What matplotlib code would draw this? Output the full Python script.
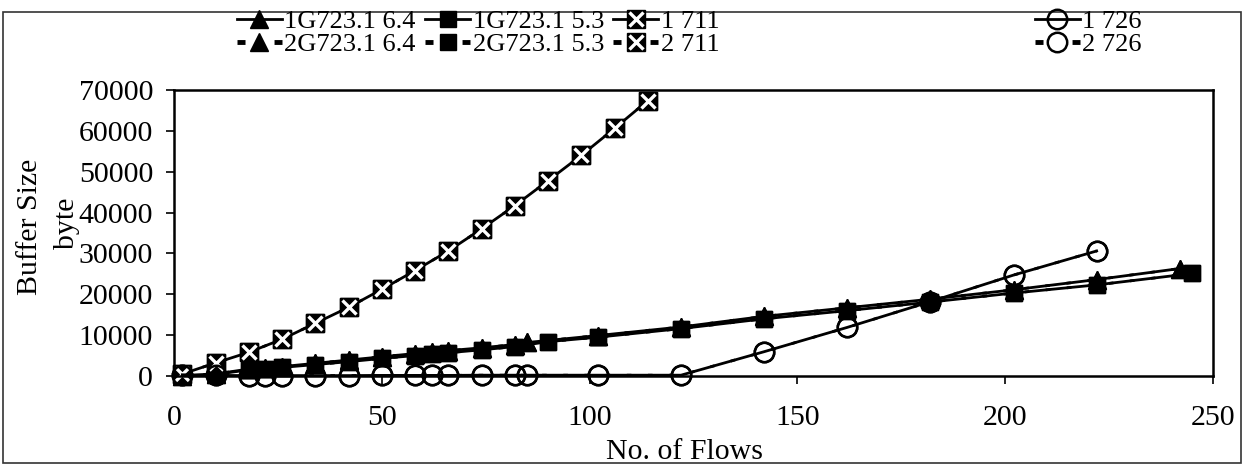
from matplotlib import pyplot as plt
from matplotlib.patches import Rectangle
from matplotlib.legend_handler import HandlerLine2D

plt.rcParams['font.family'] = ['Liberation Serif', 'DejaVu Serif']

# 数据 (flows -> buffer size in byte); series 1 and 2 lie on top of each other
g64_x = [2, 10, 18, 22, 26, 34, 42, 50, 58, 62, 66, 74, 82, 85, 102, 122, 142, 162, 182, 202, 222, 242]
g64_1 = [0, 500, 1700, 2000, 2300, 3100, 3900, 4700, 5500, 5900, 6200, 6900, 7700, 8200, 9900, 12000,
         14600, 16700, 18800, 21100, 23600, 26300]
g64_2 = [0, 500, 1700, 2000, 2300, 3100, 3900, 4700, 5500, 5900, 6200, 6900, 7700, 8200, 9900, 12000,
         14600, 16700, 18800, 21100, 23600, 26300]

g53_x = [2, 10, 18, 22, 26, 34, 42, 50, 58, 62, 66, 74, 82, 90, 102, 122, 142, 162, 182, 202, 222, 245]
g53_1 = [0, 400, 1500, 1800, 2100, 2800, 3500, 4300, 5000, 5400, 5700, 6400, 7200, 8400, 9500, 11600,
         14000, 16000, 18100, 20300, 22300, 25100]
g53_2 = [0, 400, 1500, 1800, 2100, 2800, 3500, 4300, 5000, 5400, 5700, 6400, 7200, 8400, 9500, 11600,
         14000, 16000, 18100, 20300, 22300, 25100]

g711_x = [2, 10, 18, 26, 34, 42, 50, 58, 66, 74, 82, 90, 98, 106, 114]
g711_1 = [500, 3200, 5800, 9000, 12900, 16800, 21200, 25800, 30600, 36000, 41700, 47800, 54000, 60600, 67400]
g711_2 = [500, 3200, 5800, 9000, 12900, 16800, 21200, 25800, 30600, 36000, 41700, 47800, 54000, 60600, 67400]

g726_x = [2, 10, 18, 22, 26, 34, 42, 50, 58, 62, 66, 74, 82, 85, 102, 122, 142, 162, 182, 202, 222]
g726_1 = [300, 150, 100, 100, 100, 100, 100, 150, 150, 150, 150, 200, 200, 200, 200, 200,
          5950, 11900, 18200, 24700, 30600]
g726_2 = [300, 150, 100, 100, 100, 100, 100, 150, 150, 150, 150, 200, 200, 200, 200, 200,
          5950, 11900, 18200, 24700, 30600]

fig = plt.figure(figsize=(12.45, 4.65), dpi=100)
ax = fig.add_axes([174 / 1245, 1 - 376 / 465, 1039 / 1245, 286 / 465])

solid = dict(color='k', lw=2, clip_on=False)
dash = dict(color='k', lw=2, ls=(0, (1.65, 5.97)), clip_on=False)

# series 2 first (drawn below)
h64_2, = ax.plot(g64_x, g64_2, marker='^', ms=13, **dash)
h53_2, = ax.plot(g53_x, g53_2, marker='s', ms=11, **dash)
h711_2s, = ax.plot(g711_x, g711_2, marker='s', ms=13, **dash)
h711_2x, = ax.plot(g711_x, g711_2, ls='none', marker='x', ms=10, mew=2.4, color='w', clip_on=False)
h726_2, = ax.plot(g726_x, g726_2, marker='o', ms=14, mfc='none', mew=1.8, **dash)

h64_1, = ax.plot(g64_x, g64_1, marker='^', ms=13, **solid)
h53_1, = ax.plot(g53_x, g53_1, marker='s', ms=11, **solid)
h711_1s, = ax.plot(g711_x, g711_1, marker='s', ms=13, **solid)
h711_1x, = ax.plot(g711_x, g711_1, ls='none', marker='x', ms=10, mew=2.4, color='w', clip_on=False)
h726_1, = ax.plot(g726_x, g726_1, marker='o', ms=14, mfc='none', mew=1.8, **solid)

ax.set_xlim(0, 250)
ax.set_ylim(0, 70000)
ax.set_xticks(range(0, 251, 50))
ax.set_yticks(range(0, 70001, 10000))
ax.tick_params(axis='both', direction='out', length=6, width=1.2, labelsize=21.5)
ax.tick_params(axis='x', pad=15)
ax.tick_params(axis='y', pad=9)
for s in ax.spines.values():
    s.set_linewidth(1.8)

fig.text(685 / 1245, 1 - 452 / 465, 'No. of Flows', ha='center', va='center', fontsize=21.5)
fig.text(30 / 1245, 1 - 227 / 465, 'Buffer Size', ha='center', va='center', rotation=90, fontsize=21.5)
fig.text(67 / 1245, 1 - 223 / 465, 'byte', ha='center', va='center', rotation=90, fontsize=21.5)


# thicker square dashes in the legend only
def thick(leg_line, orig):
    leg_line.update_from(orig)
    leg_line.set_linewidth(3.5)


hmap = {h: HandlerLine2D(update_func=thick) for h in (h64_2, h53_2, h711_2s, h726_2)}

leg_kw = dict(frameon=False, fontsize=19, handlelength=1.7, handletextpad=0.1, columnspacing=0.35,
              labelspacing=0.0, borderpad=0, borderaxespad=0, loc='center left', handler_map=hmap)
fig.legend([h64_1, h64_2, h53_1, h53_2, (h711_1s, h711_1x), (h711_2s, h711_2x)],
           ['1G723.1 6.4', '2G723.1 6.4', '1G723.1 5.3', '2G723.1 5.3', '1 711', '2 711'],
           ncol=3, bbox_to_anchor=(237 / 1245, 1 - 33 / 465), **leg_kw)
fig.legend([h726_1, h726_2], ['1 726', '2 726'], ncol=1,
           bbox_to_anchor=(1035 / 1245, 1 - 33 / 465), **leg_kw)

fig.patches.append(Rectangle((3 / 1245, 2 / 465), 1238 / 1245, 451 / 465, transform=fig.transFigure,
                             fill=False, lw=1.2, ec='#333333'))

fig.savefig('out.png', dpi=100)
